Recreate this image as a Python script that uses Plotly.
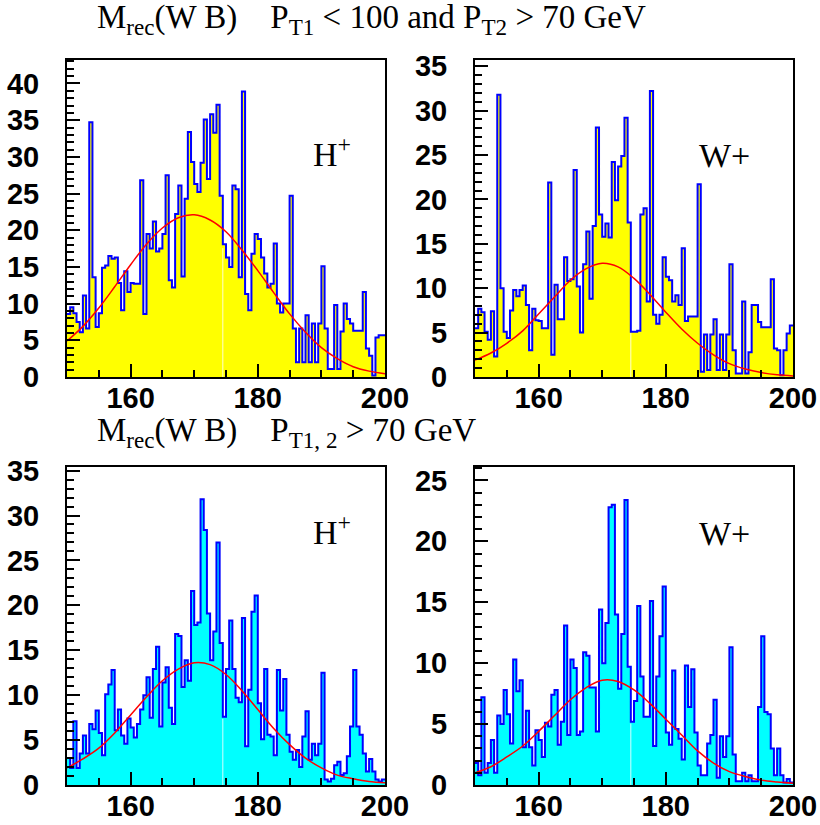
import plotly.graph_objects as go

# ---------------- data ----------------
X_MIN, X_MAX, BIN_W = 150.0, 200.0, 0.5
N_BINS = 100
edges = [X_MIN + BIN_W * i for i in range(N_BINS + 1)]

# Top row: P_T1 < 100 and P_T2 > 70 GeV
h_top = [8.6, 9.5, 8.7, 7.5, 6.1, 11.1, 6.6, 34.7, 13.6, 6.8,
         8.7, 14.9, 15.2, 16.5, 16.1, 16.3, 12.8, 9.1, 14.4, 11.6,
         12.8, 12.7, 12.7, 26.8, 8.6, 19.5, 17.5, 21.2, 17.1, 17.5,
         19.5, 27.5, 13.2, 12.2, 22.2, 26.1, 13.7, 24.3, 33.4, 29.3,
         26.3, 25.2, 29.2, 35.1, 27.0, 35.8, 33.3, 37.1, 24.7, 18.1,
         16.3, 15.0, 26.1, 25.6, 13.6, 38.9, 11.3, 9.1, 16.8, 19.5,
         18.8, 16.3, 14.1, 12.2, 12.7, 18.2, 10.0, 8.8, 10.0, 10.0,
         24.7, 6.6, 2.0, 6.6, 2.0, 8.4, 2.0, 7.3, 2.0, 7.3,
         15.1, 6.6, 1.1, 1.1, 9.8, 1.1, 6.2, 10.0, 7.9, 7.3,
         6.3, 6.3, 6.3, 11.6, 3.9, 2.9, 0.2, 5.4, 5.7, 5.7]

w_top = [5.5, 7.7, 7.3, 5.1, 4.2, 7.4, 2.3, 31.8, 10.0, 5.1,
         4.4, 7.5, 9.8, 9.1, 9.8, 10.3, 8.1, 3.0, 7.7, 6.4,
         6.3, 5.5, 5.5, 21.9, 2.5, 10.4, 6.5, 6.5, 13.5, 10.8,
         11.0, 23.3, 10.2, 5.0, 12.7, 16.4, 8.8, 17.0, 28.1, 18.3,
         15.8, 17.3, 15.7, 24.2, 19.9, 23.7, 24.9, 29.2, 17.4, 5.1,
         5.1, 5.2, 18.3, 19.0, 8.5, 32.2, 7.0, 6.0, 7.0, 13.5,
         11.3, 10.9, 8.5, 9.2, 8.1, 14.5, 6.3, 6.8, 6.8, 6.8,
         21.7, 0.6, 4.8, 0.8, 4.8, 6.5, 0.8, 4.8, 0.8, 4.8,
         12.7, 3.0, 0.4, 0.4, 8.5, 0.4, 2.8, 8.1, 8.1, 6.2,
         5.6, 5.6, 5.6, 11.0, 3.2, 3.0, 0.2, 3.0, 4.9, 5.8]

# Bottom row: P_T1,2 > 70 GeV
h_bot = [3.0, 1.9, 7.1, 1.9, 3.5, 5.5, 3.5, 6.8, 6.2, 8.3,
         5.8, 3.3, 10.1, 11.2, 12.8, 6.1, 8.4, 5.5, 4.6, 7.4,
         6.4, 5.3, 6.8, 8.4, 10.0, 12.0, 7.5, 12.9, 15.4, 6.5,
         11.4, 13.1, 8.6, 6.8, 16.8, 16.6, 10.9, 13.9, 11.6, 21.6,
         17.8, 18.1, 31.8, 28.4, 19.1, 13.9, 17.1, 27.0, 15.8, 7.6,
         12.9, 18.3, 12.9, 9.7, 9.2, 18.6, 4.3, 10.6, 19.3, 21.1,
         9.1, 5.1, 12.9, 5.6, 5.4, 3.3, 12.8, 8.3, 11.8, 5.6,
         3.7, 2.8, 3.9, 2.0, 5.4, 8.2, 2.8, 4.6, 3.3, 4.6,
         12.5, 0.6, 0.4, 0.7, 2.2, 2.6, 1.1, 1.3, 3.2, 6.5,
         12.8, 6.5, 5.6, 3.5, 1.5, 2.9, 1.5, 0.6, 0.4, 0.6]

w_bot = [1.8, 0.8, 7.2, 1.0, 1.8, 3.7, 1.0, 5.7, 5.0, 7.8,
         5.8, 3.4, 10.3, 7.7, 8.6, 3.1, 6.1, 3.1, 1.6, 4.5,
         3.7, 2.3, 5.1, 4.8, 7.4, 7.8, 3.3, 5.2, 13.1, 4.1,
         10.3, 9.6, 4.1, 4.4, 10.9, 10.6, 8.0, 8.0, 4.4, 14.4,
         10.0, 13.3, 22.8, 23.0, 14.0, 7.9, 12.4, 23.4, 9.7, 5.2,
         6.9, 14.7, 8.9, 5.6, 5.6, 15.1, 3.2, 8.9, 12.2, 16.3,
         4.3, 3.3, 9.4, 4.6, 3.8, 2.1, 9.8, 6.4, 9.5, 4.3,
         1.6, 0.8, 0.8, 3.4, 4.1, 7.0, 0.6, 4.0, 2.3, 4.0,
         11.3, 2.5, 0.3, 0.3, 1.0, 0.3, 0.8, 0.3, 0.3, 6.4,
         12.2, 6.0, 5.8, 3.0, 0.8, 3.0, 0.8, 0.2, 0.5, 0.2]

# Fitted curves (red)
fit_x = [150, 152.5, 155, 157.5, 160, 162.5, 165, 167.5, 170, 172.5, 175,
         177.5, 180, 182.5, 185, 187.5, 190, 192.5, 195, 197.5, 200]
fit_h_top = [4.9, 6.9, 9.4, 12.3, 15.3, 18.1, 20.3, 21.7, 22.1, 21.4, 19.8,
             17.3, 14.5, 11.5, 8.6, 6.1, 4.0, 2.5, 1.4, 0.8, 0.45]
fit_w_top = [1.9, 2.7, 3.8, 5.2, 7.1, 9.0, 10.9, 12.2, 12.8, 12.4, 11.1,
             9.3, 7.3, 5.4, 3.8, 2.5, 1.5, 0.9, 0.5, 0.25, 0.12]
fit_h_bot = [1.9, 2.9, 4.1, 5.8, 7.8, 9.8, 11.6, 12.9, 13.6, 13.4, 12.3,
             10.5, 8.4, 6.3, 4.5, 3.0, 1.9, 1.1, 0.7, 0.4, 0.25]
fit_w_bot = [1.0, 1.5, 2.3, 3.2, 4.4, 5.7, 7.0, 8.0, 8.6, 8.5, 7.8,
             6.7, 5.4, 4.1, 2.8, 1.8, 1.1, 0.7, 0.4, 0.25, 0.15]

y_max = [43.2, 35.7, 35.4, 26.1]
panel_labels = ["H<sup>+</sup>", "W+", "H<sup>+</sup>", "W+"]
title_top = "M<sub>rec</sub>(W B)    P<sub>T1</sub> < 100 and P<sub>T2</sub> > 70 GeV"
title_bot = "M<sub>rec</sub>(W B)    P<sub>T1, 2</sub> > 70 GeV"
SEAM_BIN = 49   # faint light seam visible in the fill of every panel

# ---------------- figure ----------------
W, H = 820, 825
def px_x(a, b):
    return [a / W, b / W]
def px_y(top, bottom):
    return [1 - bottom / H, 1 - top / H]

domains = [
    (px_x(67, 385), px_y(60, 377)),
    (px_x(475, 793), px_y(60, 377)),
    (px_x(67, 385), px_y(467, 785)),
    (px_x(475, 793), px_y(467, 785)),
]
series = [h_top, w_top, h_bot, w_bot]
fits = [fit_h_top, fit_w_top, fit_h_bot, fit_w_bot]
fills = ["#ffff00", "#ffff00", "#00ffff", "#00ffff"]
seams = ["#ffffd0", "#ffffd0", "#d0ffff", "#d0ffff"]

fig = go.Figure()
tickfont = dict(family="Liberation Sans", size=29, color="black", weight="bold")

for k in range(4):
    sfx = "" if k == 0 else str(k + 1)
    xa, ya = "x" + sfx, "y" + sfx
    vals = series[k]
    fig.add_trace(go.Scatter(
        x=edges, y=vals + [vals[-1]], mode="lines",
        line=dict(shape="hv", color="#0000ff", width=2),
        fill="tozeroy", fillcolor=fills[k],
        xaxis=xa, yaxis=ya, showlegend=False, hoverinfo="skip"))
    seam_top = min(vals[SEAM_BIN - 1], vals[SEAM_BIN])
    fig.add_trace(go.Scatter(
        x=[edges[SEAM_BIN], edges[SEAM_BIN]], y=[0, seam_top * 0.97], mode="lines",
        line=dict(color=seams[k], width=1),
        xaxis=xa, yaxis=ya, showlegend=False, hoverinfo="skip"))
    fig.add_trace(go.Scatter(
        x=fit_x, y=fits[k], mode="lines",
        line=dict(shape="spline", color="#ff0000", width=1.5),
        xaxis=xa, yaxis=ya, showlegend=False, hoverinfo="skip"))

    xd, yd = domains[k]
    fig.layout["xaxis" + sfx] = dict(
        domain=xd, anchor=ya, range=[X_MIN, X_MAX], automargin=False,
        showline=True, mirror=True, linecolor="black", linewidth=2,
        ticks="inside", tickmode="array", tickvals=[160, 180, 200],
        ticklen=13, tickwidth=1.5, tickcolor="black",
        minor=dict(ticks="inside", tickmode="array",
                   tickvals=[155, 165, 170, 175, 185, 190, 195],
                   ticklen=7, tickwidth=1.5, tickcolor="black"),
        showgrid=False, zeroline=False, tickfont=tickfont,
        ticklabelstandoff=-6)
    fig.layout["yaxis" + sfx] = dict(
        domain=yd, anchor=xa, range=[0, y_max[k]], automargin=False,
        showline=True, mirror=True, linecolor="black", linewidth=2,
        ticks="inside", dtick=5, tick0=0,
        ticklen=13, tickwidth=1.5, tickcolor="black",
        minor=dict(ticks="inside", dtick=1, tick0=0,
                   ticklen=7, tickwidth=1.5, tickcolor="black"),
        showgrid=False, zeroline=False, tickfont=tickfont,
        ticklabelstandoff=20)

serif = "Liberation Serif"
ann = []
ann.append(dict(text=title_top, x=95 / W, y=1 - 19 / H, xref="paper", yref="paper",
                xanchor="left", yanchor="middle", showarrow=False,
                font=dict(family=serif, size=33, color="black")))
ann.append(dict(text=title_bot, x=95 / W, y=1 - 432 / H, xref="paper", yref="paper",
                xanchor="left", yanchor="middle", showarrow=False,
                font=dict(family=serif, size=33, color="black")))
label_pos = [(311, 152), (697, 155), (311, 530), (697, 533)]
for k in range(4):
    lx, ly = label_pos[k]
    ann.append(dict(text=panel_labels[k], x=lx / W, y=1 - ly / H, xref="paper", yref="paper",
                    xanchor="left", yanchor="middle", showarrow=False,
                    font=dict(family=serif, size=34, color="black")))

fig.update_layout(
    width=W, height=H, margin=dict(l=0, r=0, t=0, b=0),
    paper_bgcolor="white", plot_bgcolor="white",
    annotations=ann, showlegend=False)

fig.write_html("out.html", config={"displayModeBar": False},
               post_script="document.body.style.margin='0';document.body.style.padding='0';")
